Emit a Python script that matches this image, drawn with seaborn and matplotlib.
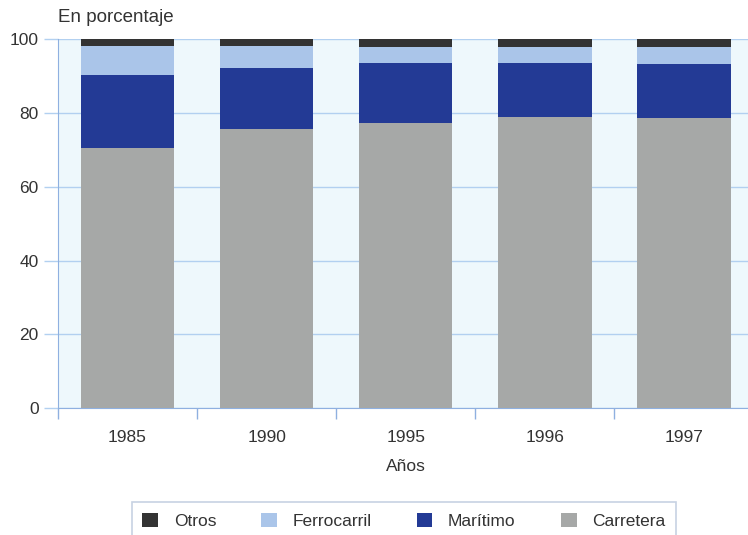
import pandas as pd
import seaborn as sns
import matplotlib.pyplot as plt
import numpy as np

anios = ['1985', '1990', '1995', '1996', '1997']
carretera = [70.5, 75.7, 77.3, 78.9, 78.6]
maritimo = [19.8, 16.4, 16.2, 14.6, 14.6]
ferrocarril = [7.8, 6.0, 4.3, 4.3, 4.6]
otros = [1.9, 1.9, 2.2, 2.2, 2.2]

colores = {'Otros': '#333333', 'Ferrocarril': '#aac5e9',
           'Marítimo': '#233a95', 'Carretera': '#a6a8a7'}

df = pd.DataFrame({'Año': anios, 'Carretera': carretera, 'Marítimo': maritimo,
                   'Ferrocarril': ferrocarril, 'Otros': otros})
orden = ['Carretera', 'Marítimo', 'Ferrocarril', 'Otros']
acum = df[orden].cumsum(axis=1)

sns.set_style('white')
plt.rcParams['font.family'] = ['Liberation Sans', 'DejaVu Sans']

fig = plt.figure(figsize=(7.48, 5.35), dpi=100)
ax = fig.add_axes([0.0775, 0.237, 0.93, 0.69])
ax.set_facecolor('#eef8fc')

for serie in reversed(orden):
    sns.barplot(x=df['Año'], y=acum[serie], color=colores[serie], width=0.67,
                saturation=1, ax=ax, zorder=3, label=serie, linewidth=0)

handles, labels = ax.get_legend_handles_labels()
if ax.get_legend() is not None:
    ax.get_legend().remove()

ax.set_ylim(0, 100)
ax.set_xlim(-0.5, 4.47)
ax.set_yticks([0, 20, 40, 60, 80, 100])
ax.yaxis.grid(True, color='#b2d0f0', linewidth=1, zorder=0)
ax.set_axisbelow(True)
for s in ['top', 'right']:
    ax.spines[s].set_visible(False)
for s in ['left', 'bottom']:
    ax.spines[s].set_color('#8fb0e0')
ax.set_xticks(np.arange(-0.5, 5, 1), minor=True)
ax.tick_params(axis='x', which='major', bottom=False, labelsize=12.5, colors='#333333', pad=12)
ax.tick_params(axis='x', which='minor', bottom=True, length=8, width=1,
               color='#8fb0e0', direction='out')
ax.tick_params(axis='y', left=True, length=10, width=1, color='#b2d0f0',
               labelsize=12.5, labelcolor='#333333', pad=4)
ax.set_xlabel('Años', fontsize=12.5, color='#333333', labelpad=10)
ax.set_ylabel('')
ax.text(0.0, 1.035, 'En porcentaje', transform=ax.transAxes, fontsize=13.5,
        color='#333333', ha='left', va='bottom')

leg = fig.legend(handles, labels, loc='lower center', bbox_to_anchor=(0.54, -0.008),
                 ncol=4, frameon=True, fancybox=False, fontsize=12.5,
                 handlelength=0.9, handleheight=0.9, columnspacing=2.6,
                 borderpad=0.6, handletextpad=0.9, borderaxespad=0)
leg.get_frame().set_edgecolor('#b9c7dc')
leg.get_frame().set_linewidth(1.2)
for t in leg.get_texts():
    t.set_color('#333333')

fig.savefig('out.png', dpi=100)
